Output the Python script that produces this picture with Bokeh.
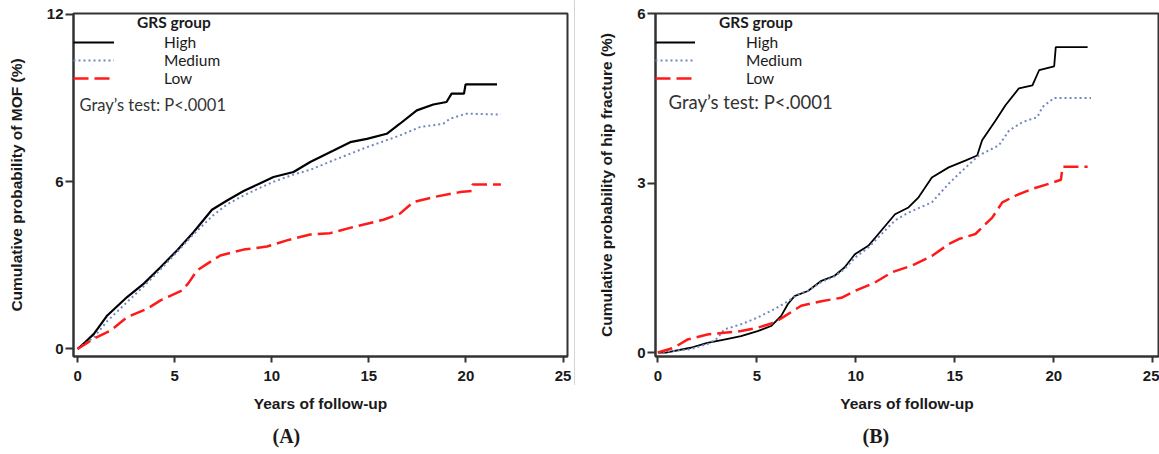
from bokeh.plotting import figure
from bokeh.models import Legend, LegendItem, Label, Title, Range1d, FixedTicker, Div
from bokeh.layouts import row
from bokeh.embed import file_html
from bokeh.resources import INLINE

# ---------------- data ----------------
x_ticks = [0, 5, 10, 15, 20, 25]
y_ticks_a = [0, 6, 12]
y_ticks_b = [0, 3, 6]
groups = ["High", "Medium", "Low"]

# Panel A: major osteoporotic fracture (MOF)
a_high_x = [0, 0.4, 0.84, 1.53, 2.55, 3.41, 4.27, 5.12, 5.98, 6.92, 7.7, 8.55, 9.41, 10.09, 11.12, 11.98,
            13.18, 14.04, 14.9, 15.92, 16.6, 17.47, 18.32, 19.0, 19.26, 19.9, 19.98, 21.6]
a_high_y = [0, 0.25, 0.54, 1.2, 1.86, 2.34, 2.93, 3.53, 4.19, 4.99, 5.32, 5.66, 5.94, 6.16, 6.34, 6.70,
            7.11, 7.41, 7.53, 7.71, 8.07, 8.55, 8.76, 8.85, 9.15, 9.15, 9.48, 9.48]
a_med_x = [0, 0.84, 1.53, 2.55, 3.41, 4.27, 5.12, 5.98, 7.0, 7.7, 8.55, 9.41, 10.09, 11.12, 11.98,
           13.18, 14.9, 16.6, 17.63, 18.83, 19.18, 20.03, 21.8]
a_med_y = [0, 0.42, 1.0, 1.68, 2.25, 2.85, 3.47, 4.12, 4.8, 5.18, 5.5, 5.78, 5.99, 6.25, 6.42,
           6.76, 7.23, 7.65, 7.95, 8.07, 8.25, 8.43, 8.4]
a_low_x = [0, 0.84, 1.7, 2.55, 3.58, 4.27, 5.38, 5.7, 6.15, 6.67, 7.35, 8.55, 9.75, 10.78, 11.98,
           13.0, 14.2, 15.75, 16.6, 17.29, 18.32, 19.69, 20.29, 20.34, 21.8]
a_low_y = [0, 0.37, 0.66, 1.14, 1.44, 1.74, 2.1, 2.35, 2.81, 3.05, 3.35, 3.56, 3.67, 3.89, 4.1,
           4.15, 4.37, 4.63, 4.85, 5.26, 5.44, 5.62, 5.66, 5.89, 5.89]

# Panel B: hip fracture
b_high_x = [0, 0.4, 1.66, 2.5, 3.35, 4.2, 5.04, 5.72, 6.23, 6.57, 6.9, 7.58, 8.26, 8.93, 9.44, 9.95,
            10.63, 11.14, 11.98, 12.66, 13.17, 13.84, 14.69, 15.53, 16.13, 16.38, 17.06, 17.56,
            18.24, 18.92, 19.26, 20.02, 20.1, 21.71]
b_high_y = [0, 0, 0.085, 0.17, 0.23, 0.29, 0.38, 0.47, 0.65, 0.86, 1.0, 1.09, 1.27, 1.36, 1.51, 1.74,
            1.89, 2.1, 2.45, 2.57, 2.75, 3.1, 3.28, 3.4, 3.49, 3.76, 4.11, 4.38,
            4.68, 4.73, 5.0, 5.07, 5.41, 5.41]
b_med_x = [0, 1.66, 2.5, 3.0, 3.35, 4.2, 5.04, 5.89, 6.57, 7.08, 7.58, 8.26, 8.93, 9.44, 9.95, 10.63,
           11.3, 11.98, 12.66, 13.84, 14.69, 15.28, 16.21, 17.23, 17.74, 18.41, 19.17, 19.43, 20.02, 21.88]
b_med_y = [0, 0.06, 0.15, 0.25, 0.41, 0.5, 0.62, 0.77, 0.91, 1.03, 1.09, 1.25, 1.35, 1.48, 1.68, 1.86,
           2.1, 2.34, 2.48, 2.66, 2.99, 3.19, 3.49, 3.67, 3.93, 4.08, 4.17, 4.35, 4.51, 4.51]
b_low_x = [0, 0.81, 1.49, 2.5, 3.35, 4.2, 5.04, 5.89, 6.57, 7.24, 8.26, 9.27, 9.95, 10.96, 11.81,
           12.83, 13.84, 14.69, 15.2, 16.04, 16.89, 17.4, 18.07, 18.92, 19.77, 20.36, 20.44, 21.71]
b_low_y = [0, 0.085, 0.23, 0.32, 0.35, 0.38, 0.44, 0.53, 0.68, 0.83, 0.91, 0.97, 1.09, 1.24, 1.42,
           1.54, 1.71, 1.92, 2.01, 2.1, 2.39, 2.66, 2.78, 2.9, 2.99, 3.06, 3.29, 3.29]

test_text = "Gray\u2019s test: P<.0001"

AXIS_COLOR = "#333333"
TXT = "#1a1a1a"
NB = "\u00a0"


def make_panel(width, mb_left, mb_right, x_rng, y_rng, y_ticks, ylabel, series, caption,
               cap_offset, test_pos, test_size, line_w, glyph_w, lab_standoff):
    p = figure(width=width, height=454, output_backend="svg", toolbar_location=None,
               x_range=Range1d(*x_rng), y_range=Range1d(*y_rng),
               min_border_left=mb_left, min_border_right=mb_right,
               min_border_top=13, min_border_bottom=60)
    p.xgrid.visible = False
    p.ygrid.visible = False
    p.outline_line_color = AXIS_COLOR
    p.outline_line_width = 2
    p.background_fill_color = "white"
    p.border_fill_color = "white"

    for ax in (p.xaxis[0], p.yaxis[0]):
        ax.axis_line_color = AXIS_COLOR
        ax.axis_line_width = 2
        ax.major_tick_line_color = AXIS_COLOR
        ax.major_tick_line_width = 2
        ax.major_tick_in = 0
        ax.minor_tick_in = 0
        ax.minor_tick_out = 0
        ax.major_label_text_font = "Liberation Sans"
        ax.major_label_text_font_style = "bold"
        ax.major_label_text_font_size = "15px"
        ax.major_label_text_color = TXT
        ax.axis_label_text_font = "Liberation Sans"
        ax.axis_label_text_font_style = "bold"
        ax.axis_label_text_font_size = "15.5px"
        ax.axis_label_text_color = TXT

    p.xaxis.ticker = FixedTicker(ticks=x_ticks)
    p.yaxis.ticker = FixedTicker(ticks=y_ticks)
    p.xaxis.major_tick_out = 6
    p.xaxis.major_label_standoff = 8
    p.xaxis.axis_label = "Years of follow-up"
    p.xaxis.axis_label_standoff = 11
    p.yaxis.major_tick_out = 8
    p.yaxis.major_label_standoff = 2
    p.yaxis.axis_label = ylabel
    p.yaxis.axis_label_standoff = 19

    styles = [
        dict(line_color="#000000", line_width=line_w, line_dash="solid"),
        dict(line_color="#7089bd", line_width=2, line_dash="2 3"),
        dict(line_color="#ff1a1a", line_width=2.5, line_dash="15 6"),
    ]
    items = []
    for (xs, ys), st, name in zip(series, styles, groups):
        r = p.line(xs, ys, **st)
        items.append(LegendItem(label=name, renderers=[r]))

    legend = Legend(items=items, location="top_left", margin=0, padding=0,
                    title=NB * 17 + "GRS group", title_text_font="Lato",
                    title_text_font_style="bold", title_text_font_size="15.5px",
                    title_text_color=TXT, title_standoff=2,
                    glyph_width=glyph_w, glyph_height=18, label_height=18, spacing=0,
                    label_standoff=lab_standoff, label_text_align="center",
                    label_text_font="Lato", label_text_font_size="15.5px",
                    label_text_color=TXT,
                    background_fill_alpha=0, border_line_alpha=0)
    p.add_layout(legend)

    p.add_layout(Label(x=test_pos[0], y=test_pos[1], text=test_text, text_font="Lato",
                       text_font_size=test_size, text_color="#333333",
                       text_baseline="middle", text_align="left"))

    p.add_layout(Title(text=caption, align="left", offset=cap_offset,
                       text_font="Liberation Serif", text_font_style="bold",
                       text_font_size="20px", text_color=TXT, standoff=16), "below")
    return p


pa = make_panel(574, 73, 7, (-0.21, 25.23), (-0.27, 12.02), y_ticks_a,
                "Cumulative probability of MOF (%)",
                [(a_high_x, a_high_y), (a_med_x, a_med_y), (a_low_x, a_low_y)],
                "(A)", 199, (0.1, 8.74), "16.5px", 2.2, 41, 50)
pb = make_panel(584, 80, 1, (-0.12, 25.29), (-0.07, 6.005), y_ticks_b,
                "Cumulative probability of hip fracture (%)",
                [(b_high_x, b_high_y), (b_med_x, b_med_y), (b_low_x, b_low_y)],
                "(B)", 207, (0.54, 4.43), "18.5px", 1.8, 40, 51)

sep = Div(text="", width=1, height=385, margin=0, styles={"background-color": "#d6d6d6"})
layout = row(pa, sep, pb, spacing=0)

open("out.html", "w").write(file_html(layout, INLINE))
